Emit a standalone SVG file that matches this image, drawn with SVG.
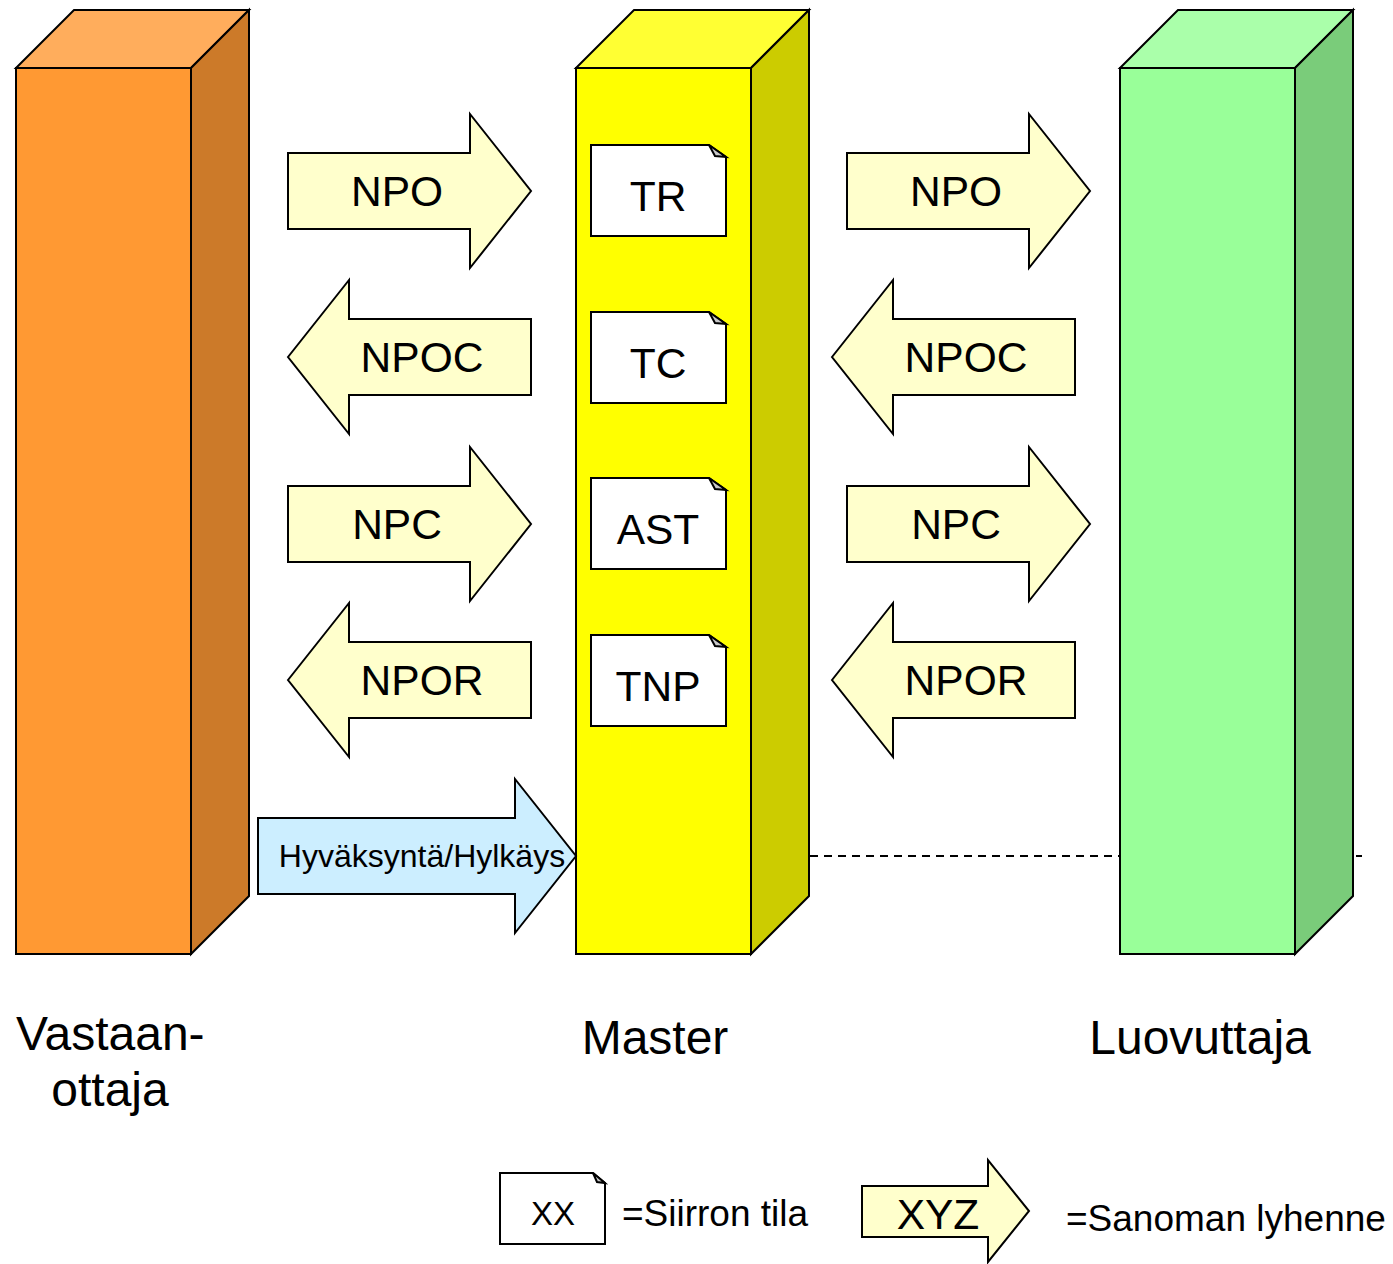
<svg xmlns="http://www.w3.org/2000/svg" width="1393" height="1264" viewBox="0 0 1393 1264">
<style>
.s{stroke:#000;stroke-width:2;stroke-linejoin:miter}
.t{font-family:"Liberation Sans",Arial,sans-serif;fill:#000}
.m{font-size:42.5px;text-anchor:middle}
.b{font-size:48px}
.ya{fill:#ffffcc}
.doc{fill:#fff}
.fold{fill:#c8c8c8}
</style>
<defs>
<g id="docshape">
<path class="s doc" d="M0,0 H118 L135,12 V91 H0 Z"/>
<path class="s fold" stroke-width="1" d="M118,0 L135,12 L124,11 Z"/>
</g>
<path id="ra" class="s ya" d="M0,-38 H182 V-77 L243,0 L182,77 V38 H0 Z"/>
<path id="la" class="s ya" d="M0,0 L61,-77 V-38 H243 V38 H61 V77 Z"/>
</defs>
<rect width="1393" height="1264" fill="#fff"/>
<g id="connectors">
<line x1="810" y1="856" x2="1362" y2="856" stroke="#000" stroke-width="2" stroke-dasharray="8,6"/>
</g>
<g id="vastaanottaja">
<path class="s" fill="#ffad5c" d="M16,68 L74,10 H249 L191,68 Z"/>
<path class="s" fill="#cc7a29" d="M191,68 L249,10 V896 L191,954 Z"/>
<rect class="s" x="16" y="68" width="175" height="886" fill="#ff9933"/>
<text class="t b" x="16" y="1050">Vastaan-</text>
<text class="t b" x="110" y="1106" text-anchor="middle">ottaja</text>
</g>
<g id="master">
<path class="s" fill="#ffff33" d="M576,68 L634,10 H809 L751,68 Z"/>
<path class="s" fill="#cccc00" d="M751,68 L809,10 V896 L751,954 Z"/>
<rect class="s" x="576" y="68" width="175" height="886" fill="#ffff00"/>
<text class="t b" x="655" y="1054" text-anchor="middle">Master</text>
</g>
<g id="luovuttaja">
<path class="s" fill="#aaffaa" d="M1120,68 L1178,10 H1353 L1295,68 Z"/>
<path class="s" fill="#7acc7a" d="M1295,68 L1353,10 V896 L1295,954 Z"/>
<rect class="s" x="1120" y="68" width="175" height="886" fill="#99ff99"/>
<text class="t b" x="1200" y="1054" text-anchor="middle">Luovuttaja</text>
</g>
<g id="state-tr"><use href="#docshape" x="591" y="145"/><text class="t m" x="658" y="211">TR</text></g>
<g id="state-tc"><use href="#docshape" x="591" y="312"/><text class="t m" x="658" y="378">TC</text></g>
<g id="state-ast"><use href="#docshape" x="591" y="478"/><text class="t m" x="658" y="544">AST</text></g>
<g id="state-tnp"><use href="#docshape" x="591" y="635"/><text class="t m" x="658" y="701">TNP</text></g>
<g id="msg-npo-l"><use href="#ra" x="288" y="191"/><text class="t m" x="397" y="206">NPO</text></g>
<g id="msg-npoc-l"><use href="#la" x="288" y="357"/><text class="t m" x="422" y="372">NPOC</text></g>
<g id="msg-npc-l"><use href="#ra" x="288" y="524"/><text class="t m" x="397" y="539">NPC</text></g>
<g id="msg-npor-l"><use href="#la" x="288" y="680"/><text class="t m" x="422" y="695">NPOR</text></g>
<g id="msg-npo-r"><use href="#ra" x="847" y="191"/><text class="t m" x="956" y="206">NPO</text></g>
<g id="msg-npoc-r"><use href="#la" x="832" y="357"/><text class="t m" x="966" y="372">NPOC</text></g>
<g id="msg-npc-r"><use href="#ra" x="847" y="524"/><text class="t m" x="956" y="539">NPC</text></g>
<g id="msg-npor-r"><use href="#la" x="832" y="680"/><text class="t m" x="966" y="695">NPOR</text></g>
<g id="msg-hyvaksynta">
<path class="s" fill="#cceeff" d="M258,818 H515 V779 L576,856 L515,933 V894 H258 Z"/>
<text class="t" x="422" y="867" font-size="32" text-anchor="middle">Hyväksyntä/Hylkäys</text>
</g>
<g id="legend-state">
<path class="s doc" d="M500,1173 H593 L605,1183 V1244 H500 Z"/>
<path class="s fold" stroke-width="1" d="M593,1173 L605,1183 L597,1182 Z"/>
<text class="t" x="553" y="1225" font-size="33" text-anchor="middle">XX</text>
<text class="t" x="622" y="1226" font-size="37">=Siirron tila</text>
</g>
<g id="legend-msg">
<path class="s ya" d="M862,1186 H988 V1160 L1029,1211 L988,1262 V1237 H862 Z"/>
<text class="t" x="938" y="1229" font-size="42.5" text-anchor="middle">XYZ</text>
<text class="t" x="1066" y="1231" font-size="37">=Sanoman lyhenne</text>
</g>
</svg>
